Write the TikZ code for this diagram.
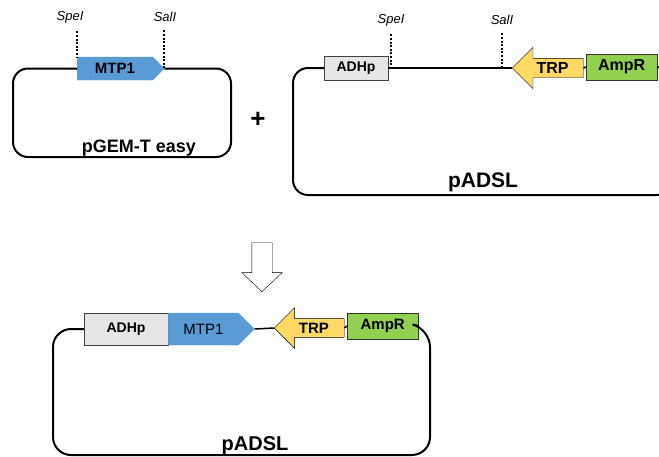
\documentclass[tikz,border=0pt]{standalone}
\usepackage{fontspec}
\setmainfont{Liberation Sans}
\usepackage{xcolor}
\usetikzlibrary{
  positioning,
  shapes.symbols,
  shapes.arrows
}
\definecolor{GeneBlue}{HTML}{5B9BD5}
\definecolor{PromGray}{HTML}{E7E6E6}
\definecolor{PromEdge}{HTML}{404040}
\definecolor{TrpYellow}{HTML}{FFD966}
\definecolor{AmpGreen}{HTML}{92D050}
\definecolor{AmpEdge}{HTML}{333333}
\tikzset{
  part/.style={
    draw,
    inner sep=0pt,
    font=\bfseries\fontsize{14}{16}\selectfont
  },
  promoter/.style={
    part,
    fill=PromGray,
    draw=PromEdge
  },
  resist/.style={
    part,
    fill=AmpGreen,
    draw=AmpEdge,
    font=\bfseries\fontsize{16}{18}\selectfont
  },
  gene/.style={
    signal,
    signal to=east,
    signal pointer angle=90,
    fill=GeneBlue,
    draw=GeneBlue,
    inner sep=0pt,
    font=\bfseries\fontsize{15}{17}\selectfont
  },
  marker/.style={
    single arrow,
    shape border rotate=180,
    single arrow tip angle=90,
    single arrow head indent=0pt,
    single arrow head extend=11pt,
    fill=TrpYellow,
    draw=black,
    inner xsep=2pt,
    inner ysep=4pt,
    font=\bfseries\fontsize{16}{18}\selectfont
  },
  backbone/.style={
    line width=2pt,
    rounded corners=15pt
  },
  link/.style={
    line width=1.5pt
  },
  site/.style={
    line width=2pt,
    dash pattern=on 2pt off 1.6pt,
    shorten <=5pt
  },
  sitename/.style={
    font=\itshape\fontsize{13}{15}\selectfont
  },
  vecname/.style={
    anchor=base,
    font=\bfseries\fontsize{20}{22}\selectfont
  }
}
\begin{document}
\begin{tikzpicture}[
  x=1pt,
  y=-1pt
]

  \useasboundingbox (0,0) rectangle (659,456);

  % pGEM-T easy with the MTP1 insert
  \node[
    gene,
    minimum width=87pt,
    minimum height=23pt,
    anchor=west
  ] (mtp1) at (77,68.5) {MTP1};

  \node[sitename] (spe1) at (70,17) {SpeI};
  \node[sitename] (sal1) at (165,17) {SalI};

  \draw[backbone]
  (mtp1.west) -- (13,68.5) -- (13,157) --
  (231,157) -- (231,68.5) -- (mtp1.east);

  \draw[site]
  (mtp1.west |- spe1.south) --
  (mtp1.west |- mtp1.north);

  \draw[site]
  (mtp1.east |- sal1.south) --
  (mtp1.east);

  \node[
    vecname,
    font=\bfseries\fontsize{18}{20}\selectfont
  ] (pgem) at (139,152) {pGEM-T easy};

  \node[
    font=\bfseries\fontsize{26}{28}\selectfont
  ] (plus) at (258,120) {+};

  % pADSL before cloning
  \node[
    promoter,
    minimum width=64pt,
    minimum height=24pt
  ] (adhp1) at (356,68) {ADHp};

  \node[
    marker,
    minimum height=71pt,
    anchor=tip
  ] (trp1) at (512,68) {TRP};

  \node[
    resist,
    minimum width=71pt,
    minimum height=26pt,
    anchor=west
  ] (ampr1) at (586,67) {AmpR};

  \node[sitename] (spe2) at (391,20) {SpeI};
  \node[sitename] (sal2) at (502,20) {SalI};

  \draw[link]
  (adhp1.east) --
  (trp1.tip);

  \draw[link]
  (trp1.east) --
  (ampr1.west);

  \draw[backbone]
  (adhp1.west) -- (293,68) -- (293,195) --
  (672,195) -- (672,68) -- (ampr1.east);

  \draw[site]
  (spe2.south) --
  (spe2.south |- adhp1.east);

  \draw[site]
  (sal2.south) --
  (sal2.south |- adhp1.east);

  \node[
    vecname,
    font=\bfseries\fontsize{21}{23}\selectfont
  ] (padsl1) at (483,187) {pADSL};

  % cloning step
  \node[
    single arrow,
    shape border rotate=270,
    single arrow tip angle=93,
    single arrow head indent=0pt,
    single arrow head extend=10pt,
    draw,
    fill=white,
    inner sep=10pt,
    minimum height=49pt,
    anchor=tip
  ] (merge) at (262,292) {};

  % pADSL carrying MTP1
  \node[
    promoter,
    minimum width=84pt,
    minimum height=32pt
  ] (adhp2) at (126,329) {ADHp};

  \node[
    gene,
    minimum width=86pt,
    minimum height=32pt,
    right=0pt of adhp2,
    font=\fontsize{15}{17}\selectfont
  ] (mtp2) {MTP1};

  \node[
    marker,
    minimum height=70pt,
    anchor=tip,
    font=\bfseries\fontsize{15}{17}\selectfont
  ] (trp2) at (274,328) {TRP};

  \node[
    resist,
    minimum width=71pt,
    minimum height=26pt,
    anchor=west,
    font=\bfseries\fontsize{15}{17}\selectfont
  ] (ampr2) at (347,326) {AmpR};

  \draw[link]
  (mtp2.east) --
  (trp2.tip);

  \draw[link]
  (trp2.east) --
  (ampr2.west);

  \draw[backbone, rounded corners=18pt]
  (adhp2.west) -- (53,329) -- (53,455) --
  (430,455) -- (430,329) -- (ampr2.east);

  \node[vecname] (padsl2) at (255,450) {pADSL};

\end{tikzpicture}
\end{document}
